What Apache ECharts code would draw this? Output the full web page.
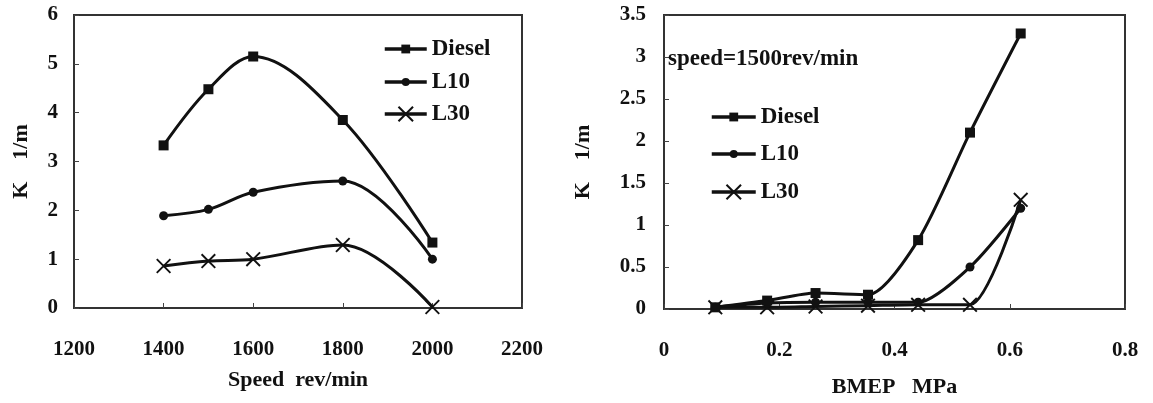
<!DOCTYPE html>
<html><head><meta charset="utf-8">
<script src="https://cdn.jsdelivr.net/npm/echarts@6/dist/echarts.min.js"></script>
<style>html,body{margin:0;padding:0;background:#fff}#c{width:1153px;height:403px}</style>
</head><body><div id="c"></div>
<script>
// Left chart: K vs speed
const speeds = [1400, 1500, 1600, 1800, 2000];
const leftDiesel = [3.33, 4.48, 5.15, 3.85, 1.34];
const leftL10 = [1.89, 2.02, 2.37, 2.6, 1.0];
const leftL30 = [0.86, 0.96, 1.0, 1.29, 0.02];
// Right chart: K vs BMEP at 1500 rev/min
const bmep = [0.089, 0.179, 0.263, 0.354, 0.441, 0.531, 0.619];
const rightDiesel = [0.02, 0.1, 0.19, 0.17, 0.82, 2.1, 3.28];
const rightL10 = [0.02, 0.07, 0.08, 0.08, 0.08, 0.5, 1.2];
const rightL30 = [0.02, 0.02, 0.03, 0.04, 0.05, 0.05, 1.3];
const seriesNames = ['Diesel', 'L10', 'L30'];

const FONT = 'Liberation Serif';
const INK = '#111';
const crossPath = 'path://M0,0.9L0.9,0L10,9.1L9.1,10Z M9.1,0L10,0.9L0.9,10L0,9.1Z';
const symbols = [['rect', 10], ['circle', 9], [crossPath, 15]];
const legendIconH = [11, 10, 20];

function zip(xs, ys) { return xs.map((x, i) => [x, ys[i]]); }
function mkSeries(name, idx, data, axisIdx, smooth) {
  return {
    name: name, type: 'line', xAxisIndex: axisIdx, yAxisIndex: axisIdx,
    data: data, smooth: smooth, symbol: symbols[idx][0], symbolSize: symbols[idx][1],
    showSymbol: true, color: INK,
    lineStyle: { color: INK, width: 3 },
    itemStyle: { color: INK },
    emphasis: { disabled: true }, animation: false, z: 3 - idx
  };
}
function axisCommon(labelMargin) {
  return {
    axisLine: { show: true, onZero: false, lineStyle: { color: '#333', width: 2 } },
    axisTick: { show: true, inside: true, length: 5, lineStyle: { color: '#444', width: 1 } },
    splitLine: { show: false },
    axisLabel: { color: INK, fontFamily: FONT, fontSize: 21, fontWeight: 'bold', margin: labelMargin, formatter: v => String(v) },
    nameTextStyle: { color: INK, fontFamily: FONT, fontSize: 22, fontWeight: 'bold' },
    nameLocation: 'middle'
  };
}
const legendText = { color: INK, fontFamily: FONT, fontSize: 23, fontWeight: 'bold' };
function mkLegend(name, idx, left, centerY, itemWidth) {
  const h = legendIconH[idx];
  return {
    data: [name], left: left, top: centerY - 13, orient: 'vertical',
    itemWidth: itemWidth, itemHeight: h, padding: 0,
    lineStyle: { width: 3.5, color: INK }, itemStyle: { color: INK },
    textStyle: Object.assign({ height: 26, lineHeight: 26 }, legendText), selectedMode: false,
    formatter: n => n.trim()
  };
}

const chart = echarts.init(document.getElementById('c'), null, { renderer: 'canvas' });
chart.setOption({
  backgroundColor: '#fff',
  animation: false,
  grid: [
    { left: 74, top: 15, width: 448, height: 293, show: true, borderColor: '#333', borderWidth: 2, backgroundColor: 'transparent' },
    { left: 664, top: 15, width: 461, height: 294, show: true, borderColor: '#333', borderWidth: 2, backgroundColor: 'transparent' }
  ],
  xAxis: [
    Object.assign(axisCommon(31), { gridIndex: 0, type: 'value', min: 1200, max: 2200, interval: 200, name: 'Speed  rev/min', nameGap: 61 }),
    Object.assign(axisCommon(31), { gridIndex: 1, type: 'value', min: 0, max: 0.8, interval: 0.2, name: 'BMEP   MPa', nameGap: 67 })
  ],
  yAxis: [
    Object.assign(axisCommon(16), { gridIndex: 0, type: 'value', min: 0, max: 6, interval: 1, name: 'K    1/m', nameGap: 42 }),
    Object.assign(axisCommon(18), { gridIndex: 1, type: 'value', min: 0, max: 3.5, interval: 0.5, name: 'K    1/m', nameGap: 70 })
  ],
  legend: [
    mkLegend('Diesel', 0, 383, 49, 42),
    mkLegend('L10', 1, 383, 82, 42),
    mkLegend('L30', 2, 383, 114, 42),
    mkLegend('Diesel ', 0, 710, 117, 44),
    mkLegend('L10 ', 1, 710, 154, 44),
    mkLegend('L30 ', 2, 710, 192, 44)
  ],
  graphic: [
    { type: 'text', left: 668, top: 48, z: 10, style: { text: 'speed=1500rev/min', fill: INK, font: 'bold 23px "Liberation Serif"' } }
  ],
  series: [
    mkSeries('Diesel', 0, zip(speeds, leftDiesel), 0, 0.35),
    mkSeries('L10', 1, zip(speeds, leftL10), 0, 0.35),
    mkSeries('L30', 2, zip(speeds, leftL30), 0, 0.35),
    mkSeries('Diesel ', 0, zip(bmep, rightDiesel), 1, 0.25),
    mkSeries('L10 ', 1, zip(bmep, rightL10), 1, 0.25),
    mkSeries('L30 ', 2, zip(bmep, rightL30), 1, 0.25)
  ]
});
</script></body></html>
